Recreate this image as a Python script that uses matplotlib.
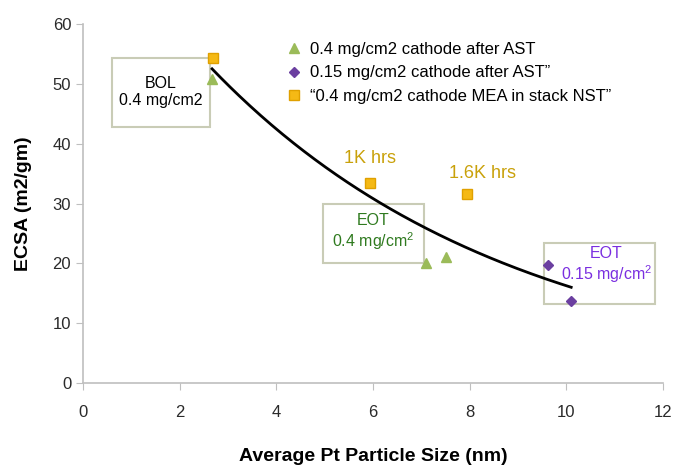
import numpy as np
import matplotlib
matplotlib.use("Agg")
import matplotlib.pyplot as plt
from matplotlib.patches import Rectangle

plt.rcParams['font.family'] = ['Liberation Sans', 'DejaVu Sans']
plt.rcParams['mathtext.fontset'] = 'custom'
plt.rcParams['mathtext.rm'] = 'Liberation Sans'
plt.rcParams['mathtext.default'] = 'regular'

# data
ast_04_x = [2.67, 7.10, 7.52]
ast_04_y = [50.8, 20.1, 21.1]
ast_015_x = [9.63, 10.10]
ast_015_y = [19.7, 13.7]
stack_x = [2.69, 5.94, 7.95]
stack_y = [54.3, 33.4, 31.6]

labels = ['0.4 mg/cm2 cathode after AST',
          '0.15 mg/cm2 cathode after AST\u201d',
          '\u201c0.4 mg/cm2 cathode MEA in stack NST\u201d']

green = '#9bbb59'
purple = '#6b3fa0'
gold = '#f5b915'
gold_text = '#c9a10a'
box_edge = '#c9ccb6'

fig = plt.figure(figsize=(6.76, 4.66), dpi=100)
ax = fig.add_axes([0.1228, 0.178, 0.858, 0.7705])

ax.plot(ast_04_x, ast_04_y, ls='none', marker='^', ms=7.5, color=green,
        label=labels[0], zorder=4)
ax.plot(ast_015_x, ast_015_y, ls='none', marker='D', ms=5, color=purple,
        label=labels[1], zorder=4)
ax.plot(stack_x, stack_y, ls='none', marker='s', ms=7.5, color=gold,
        markeredgecolor='#e0a000', label=labels[2], zorder=4)

# exponential trendline over all points
all_x = np.array(ast_04_x + ast_015_x + stack_x)
all_y = np.array(ast_04_y + ast_015_y + stack_y)
b, ln_a = np.polyfit(all_x, np.log(all_y), 1)
fx = np.linspace(all_x.min(), all_x.max(), 200)
ax.plot(fx, np.exp(ln_a + b * fx), color='black', lw=2, zorder=3)

# annotation boxes
def box(x0, y0, x1, y1):
    ax.add_patch(Rectangle((x0, y0), x1 - x0, y1 - y0, fill=False,
                           edgecolor=box_edge, lw=1.5, zorder=2))

box(0.60, 42.8, 2.63, 54.3)
ax.text(1.6, 48.6, 'BOL\n0.4 mg/cm2', ha='center', va='center', fontsize=11.5,
        linespacing=1.2, color='black')

box(4.97, 20.1, 7.06, 29.9)
ax.text(6.0, 25.1, 'EOT\n0.4 mg/cm$^2$', ha='center', va='center', fontsize=11.5,
        linespacing=1.15, color='#2f7a1f')

box(9.54, 13.2, 11.84, 23.4)
ax.text(10.83, 19.6, 'EOT\n0.15 mg/cm$^2$', ha='center', va='center', fontsize=11.5,
        linespacing=1.15, color='#7a2ee0')

ax.text(5.94, 37.5, '1K hrs', ha='center', va='center', fontsize=13, color=gold_text)
ax.text(8.26, 35.0, '1.6K hrs', ha='center', va='center', fontsize=13, color=gold_text)

ax.set_xlim(0, 12)
ax.set_ylim(0, 60)
ax.set_xticks(range(0, 13, 2))
ax.set_yticks(range(0, 61, 10))
for s in ['top', 'right']:
    ax.spines[s].set_visible(False)
for s in ['left', 'bottom']:
    ax.spines[s].set_color('#bfbfbf')
    ax.spines[s].set_linewidth(1.2)
ax.tick_params(colors='#bfbfbf', labelcolor='#2a2a2a', labelsize=12, length=5)
ax.tick_params(axis='x', pad=11)

ax.set_xlabel('Average Pt Particle Size (nm)', fontsize=14, fontweight='bold', labelpad=20)
ax.set_ylabel('ECSA (m2/gm)', fontsize=14, fontweight='bold', labelpad=15)

ax.legend(loc='upper left', bbox_to_anchor=(0.34, 0.968), frameon=False,
          fontsize=12, handlelength=0.8, handletextpad=0.6, labelspacing=0.5,
          borderaxespad=0)

fig.savefig('out.png', dpi=100)
